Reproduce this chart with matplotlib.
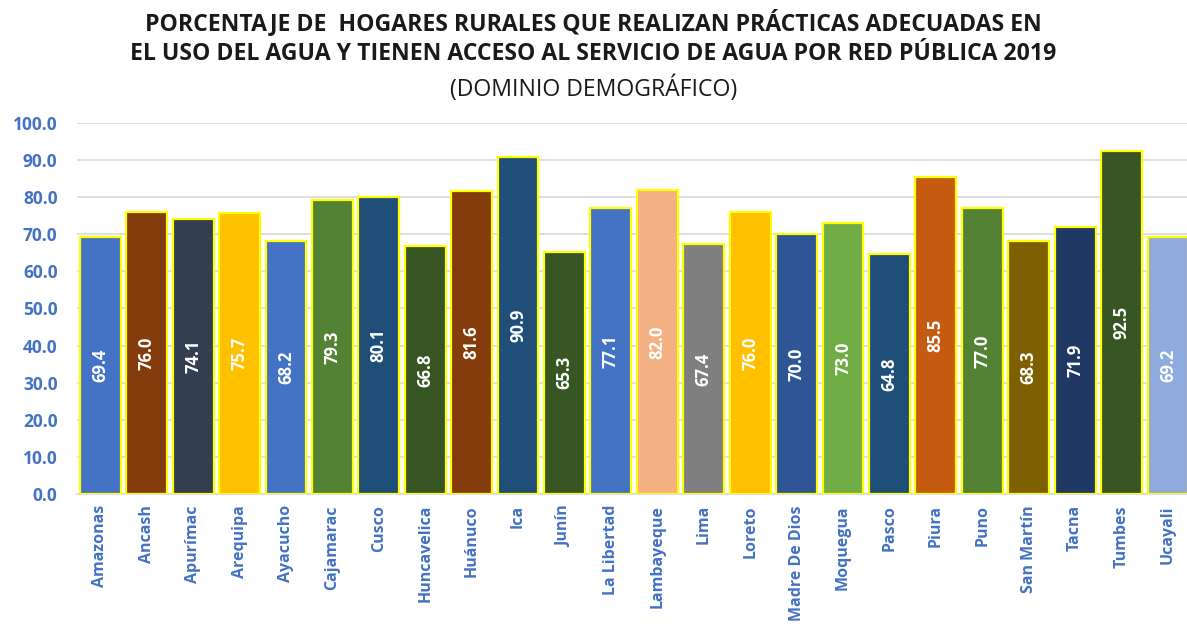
import matplotlib
matplotlib.use("Agg")
import matplotlib.pyplot as plt
from matplotlib import font_manager

names = {f.name for f in font_manager.fontManager.ttflist}
FONT = "Liberation Sans Narrow" if "Liberation Sans Narrow" in names else "Open Sans"

categories = ["Amazonas", "Ancash", "Apurímac", "Arequipa", "Ayacucho", "Cajamarac",
              "Cusco", "Huncavelica", "Huánuco", "Ica", "Junín", "La Libertad",
              "Lambayeque", "Lima", "Loreto", "Madre De Dios", "Moquegua", "Pasco",
              "Piura", "Puno", "San Martín", "Tacna", "Tumbes", "Ucayali"]
values = [69.4, 76.0, 74.1, 75.7, 68.2, 79.3, 80.1, 66.8, 81.6, 90.9, 65.3, 77.1,
          82.0, 67.4, 76.0, 70.0, 73.0, 64.8, 85.5, 77.0, 68.3, 71.9, 92.5, 69.2]
colors = ["#4472C4", "#843C0C", "#333F50", "#FFC000", "#4472C4", "#548235",
          "#1F4E79", "#375623", "#843C0C", "#1F4E79", "#375623", "#4472C4",
          "#F4B183", "#7F7F7F", "#FFC000", "#2F5597", "#70AD47", "#1F4E79",
          "#C55A11", "#548235", "#7F6000", "#203864", "#375623", "#8FAADC"]
yticks = [0, 10, 20, 30, 40, 50, 60, 70, 80, 90, 100]

BLUE = "#4472C4"
fig = plt.figure(figsize=(11.87, 6.33), dpi=100)
ax = fig.add_axes([0.0649, 0.2196, 0.9351, 0.5861])

x = list(range(len(categories)))
ax.bar(x, values, width=0.88, color=colors, edgecolor="#FFFF00", linewidth=1.6, zorder=3)
for xi, v in zip(x, values):
    ax.text(xi, v / 2, f"{v:.1f}", rotation=90, ha="center", va="center",
            color="white", fontsize=12, fontweight="bold", family=FONT, zorder=4)

ax.set_xlim(-0.5, 23.41)
ax.set_ylim(0, 100)
ax.set_yticks(yticks)
ax.set_yticklabels([f"{t:.1f}" for t in yticks], color=BLUE, fontsize=12.5,
                   fontweight="bold", family=FONT)
ax.set_xticks(x)
ax.set_xticklabels(categories, rotation=90, color=BLUE, fontsize=11.5,
                   fontweight="bold", family=FONT)
ax.tick_params(axis="both", length=0)
ax.tick_params(axis="y", pad=14)
ax.tick_params(axis="x", pad=8)
ax.grid(axis="y", color="#D9D9D9", linewidth=1.2, zorder=0)
for s in ["top", "right", "left"]:
    ax.spines[s].set_visible(False)
ax.spines["bottom"].set_color("#D9D9D9")
ax.spines["bottom"].set_linewidth(1.2)

fig.text(0.5, 0.965, "PORCENTAJE DE  HOGARES RURALES QUE REALIZAN PRÁCTICAS ADECUADAS EN",
         ha="center", va="center", fontsize=16.6, fontweight="bold", family=FONT, color="#1a1a1a")
fig.text(0.5, 0.915, "EL USO DEL AGUA Y TIENEN ACCESO AL SERVICIO DE AGUA POR RED PÚBLICA 2019",
         ha="center", va="center", fontsize=16.6, fontweight="bold", family=FONT, color="#1a1a1a")
fig.text(0.5, 0.86, "(DOMINIO DEMOGRÁFICO)",
         ha="center", va="center", fontsize=16.6, family=FONT, color="#1a1a1a")

fig.savefig("out.png", dpi=100)
